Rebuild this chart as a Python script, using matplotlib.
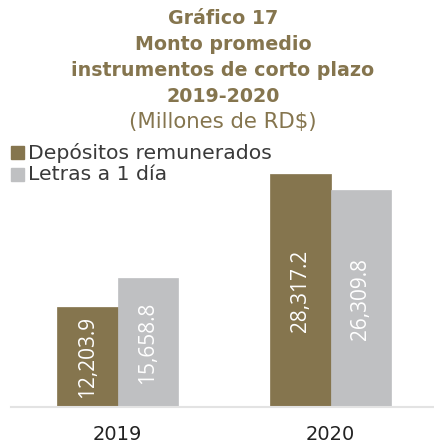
import numpy as np
import matplotlib
matplotlib.use("Agg")
import matplotlib.pyplot as plt
from matplotlib.patches import Rectangle

years = ["2019", "2020"]
series_names = ["Depósitos remunerados", "Letras a 1 día"]
depositos = [12203.9, 28317.2]
letras = [15658.8, 26309.8]
title_lines = ["Gráfico 17", "Monto promedio", "instrumentos de corto plazo", "2019-2020"]
subtitle = "(Millones de RD$)"

brown = "#85754e"
gray = "#bfc0c2"

plt.rcParams['font.family'] = ['DejaVu Sans']

fig = plt.figure(figsize=(4.35, 4.47), dpi=100)
ax = fig.add_axes([0.0253, 0.0895, 0.9747, 0.5526])

x = np.arange(len(years))
w = 0.283
b1 = ax.bar(x - w / 2, depositos, w, color=brown, edgecolor=brown, linewidth=0.5)
b2 = ax.bar(x + w / 2, letras, w, color=gray, edgecolor=gray, linewidth=0.5)

for bars, vals in [(b1, depositos), (b2, letras)]:
    ax.bar_label(bars, labels=["{:,.1f}".format(v) for v in vals], label_type="center",
                 rotation=90, color="white", fontsize=15, fontfamily="Open Sans")

ax.set_xlim(-0.5, 1.49)
ax.set_ylim(0, 30000)
for s in ["top", "right", "left"]:
    ax.spines[s].set_visible(False)
ax.spines["bottom"].set_color("#e3e3e3")
ax.spines["bottom"].set_linewidth(1.5)
ax.set_yticks([])
ax.set_xticks(x)
ax.set_xticklabels(years, fontsize=14, color="#222222")
ax.tick_params(axis="x", length=0, pad=13)

# titulo
cx = 223 / 435
ys = [18, 45, 70, 96]
for line, yy in zip(title_lines, ys):
    fig.text(cx, 1 - yy / 447, line, ha="center", va="center", fontsize=13.7,
             fontweight="bold", color=brown)
fig.text(cx, 1 - 122 / 447, subtitle, ha="center", va="center", fontsize=15.3, color=brown)

# leyenda
for name, col, yy in [(series_names[0], brown, 153), (series_names[1], gray, 175)]:
    fig.patches.append(Rectangle((11 / 435, 1 - (yy + 6) / 447), 13 / 435, 13 / 447,
                                 transform=fig.transFigure, color=col))
    fig.text(28 / 435, 1 - yy / 447, name, ha="left", va="center", fontsize=14.7, color="#3a3a3a")

fig.savefig("out.png", dpi=100)
